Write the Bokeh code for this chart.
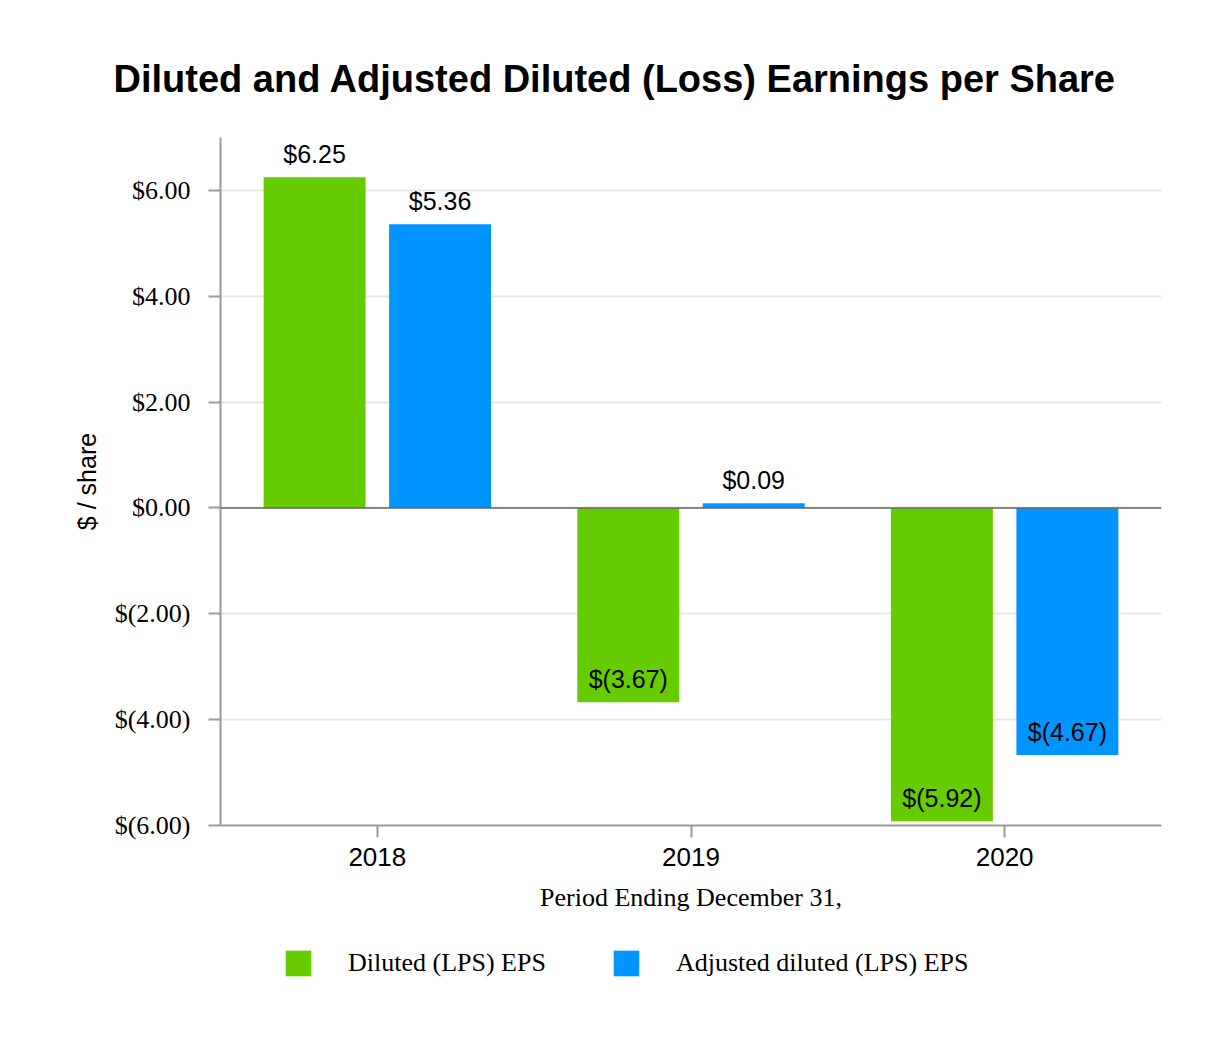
from bokeh.plotting import figure
from bokeh.layouts import column
from bokeh.models import (ColumnDataSource, FactorRange, Range1d, FixedTicker,
                          CustomJSTickFormatter, LabelSet, Span, Legend, LegendItem)
from bokeh.core.properties import value
from bokeh.transform import dodge
from bokeh.embed import file_html
from bokeh.resources import INLINE

years = ["2018", "2019", "2020"]
diluted = [6.25, -3.67, -5.92]
adjusted = [5.36, 0.09, -4.67]
series_names = ["Diluted (LPS) EPS", "Adjusted diluted (LPS) EPS"]
colors = ["#66cc00", "#0095ff"]
y_ticks = [-6, -4, -2, 0, 2, 4, 6]
title_text = "Diluted and Adjusted Diluted (Loss) Earnings per Share"
x_label = "Period Ending December 31,"
y_label = "$ / share"


def fmt(v):
    return f"${v:.2f}" if v >= 0 else f"$({abs(v):.2f})"


src = ColumnDataSource(dict(
    year=years, diluted=diluted, adjusted=adjusted,
    dl=[fmt(v) for v in diluted], al=[fmt(v) for v in adjusted],
))

SANS = "Liberation Sans"
SERIF = "Liberation Serif"

W = 1210
MAIN_H = 930
LEG_H = 100
bar_w = 0.325

p = figure(x_range=FactorRange(factors=years, range_padding=0),
           y_range=Range1d(-6, 7),
           width=W, height=MAIN_H, output_backend="svg", toolbar_location=None,
           min_border_left=220, min_border_right=49, min_border_top=137,
           min_border_bottom=MAIN_H - 825)

p.title.text = title_text
p.title.align = "left"
p.title.offset = -107
p.title.text_font = SANS
p.title.text_font_style = "bold"
p.title.text_font_size = "38px"
p.title.text_color = "black"
p.title.standoff = 76

p.outline_line_color = None
p.background_fill_color = "white"
p.border_fill_color = "white"

r1 = p.vbar(x=dodge("year", -0.2, range=p.x_range), top="diluted", bottom=0,
            width=bar_w, fill_color=colors[0], line_color=None, source=src)
r2 = p.vbar(x=dodge("year", 0.2, range=p.x_range), top="adjusted", bottom=0,
            width=bar_w, fill_color=colors[1], line_color=None, source=src)

for xo, col, lab in [(-0.2, "diluted", "dl"), (0.2, "adjusted", "al")]:
    p.add_layout(LabelSet(x=dodge("year", xo, range=p.x_range), y=col, text=lab,
                          source=src, text_align="center", text_baseline="bottom",
                          y_offset=9, text_font=value(SANS), text_font_size="25px",
                          text_color="black"))

p.add_layout(Span(location=0, dimension="width", line_color="#666666", line_width=1.5))

# axes
p.xgrid.grid_line_color = None
p.ygrid.grid_line_color = "#e8e8e8"
p.ygrid.grid_line_width = 2
p.yaxis.ticker = FixedTicker(ticks=y_ticks)
p.yaxis.formatter = CustomJSTickFormatter(code="""
    return tick < 0 ? "$(" + Math.abs(tick).toFixed(2) + ")" : "$" + tick.toFixed(2);
""")
for ax in (p.xaxis, p.yaxis):
    ax.axis_line_color = "#999999"
    ax.axis_line_width = 2
    ax.major_tick_line_color = "#999999"
    ax.major_tick_line_width = 2
    ax.major_tick_out = 12
    ax.major_tick_in = 0
    ax.minor_tick_line_color = None
    ax.major_label_text_color = "black"
    ax.axis_label_text_color = "black"
    ax.axis_label_text_font_style = "normal"

p.yaxis.major_label_text_font = SERIF
p.yaxis.major_label_text_font_size = "26px"
p.yaxis.major_label_standoff = 18
p.yaxis.axis_label = y_label
p.yaxis.axis_label_text_font = SANS
p.yaxis.axis_label_text_font_size = "25px"
p.yaxis.axis_label_standoff = 11

p.xaxis.major_label_text_font = SANS
p.xaxis.major_label_text_font_size = "26px"
p.xaxis.major_label_standoff = 10
p.xaxis.axis_label = x_label
p.xaxis.axis_label_text_font = SERIF
p.xaxis.axis_label_text_font_size = "26px"
p.xaxis.axis_label_standoff = 14

# legend strip below the chart (its bars sit outside its visible y range;
# only their legend swatches are shown)
lg = figure(x_range=FactorRange(factors=years, range_padding=0),
            y_range=Range1d(100, 101),
            width=W, height=LEG_H, output_backend="svg", toolbar_location=None,
            x_axis_type=None, y_axis_type=None,
            min_border_left=220, min_border_right=49, min_border_top=0,
            min_border_bottom=0)
lg.outline_line_color = None
lg.background_fill_color = "white"
lg.border_fill_color = "white"
lg.xgrid.grid_line_color = None
lg.ygrid.grid_line_color = None
l1 = lg.vbar(x=dodge("year", -0.2, range=lg.x_range), top="diluted", bottom=0,
             width=bar_w, fill_color=colors[0], line_color=None, source=src)
l2 = lg.vbar(x=dodge("year", 0.2, range=lg.x_range), top="adjusted", bottom=0,
             width=bar_w, fill_color=colors[1], line_color=None, source=src)
legend = Legend(items=[LegendItem(label=series_names[0], renderers=[l1]),
                       LegendItem(label=series_names[1], renderers=[l2])],
                orientation="horizontal", location=(62, 51),
                glyph_width=32, glyph_height=32, label_standoff=34, spacing=64,
                padding=0, margin=0, border_line_color=None,
                background_fill_alpha=0,
                label_text_font=SERIF, label_text_font_size="26px",
                label_text_color="black")
lg.add_layout(legend, "center")

layout = column(p, lg, spacing=0)
open("out.html", "w").write(file_html(layout, INLINE))
